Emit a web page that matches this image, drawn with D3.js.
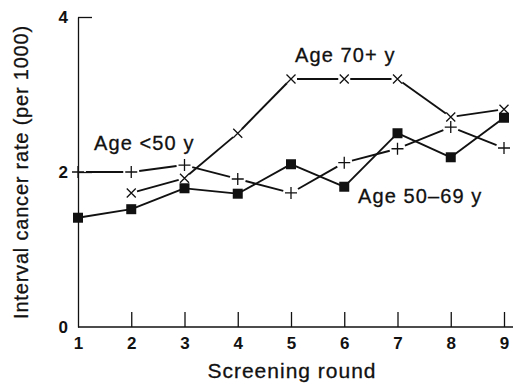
<!DOCTYPE html>
<html>
<head>
<meta charset="utf-8">
<script src="https://cdn.jsdelivr.net/npm/d3@7"></script>
<style>
	body { margin: 0; background: #fff; }
	text { font-family: "Liberation Sans", Arial, sans-serif; fill: #111; }
</style>
</head>
<body>
<svg id="chart" width="513" height="385"></svg>
<script>
const rounds = [1, 2, 3, 4, 5, 6, 7, 8, 9];
const under50 = [2.0, 2.0, 2.09, 1.91, 1.73, 2.12, 2.3, 2.58, 2.31];
const age50to69 = [1.41, 1.52, 1.79, 1.72, 2.1, 1.81, 2.5, 2.19, 2.7];
const age70plus = [null, 1.73, 1.92, 2.5, 3.2, 3.2, 3.2, 2.71, 2.81];
const yTicks = [0, 2, 4];

const svg = d3.select('#chart');
const x = d3.scaleLinear().domain([1, 9]).range([78, 504]);
const y = d3.scaleLinear().domain([0, 4]).range([327, 17]);

// axes, ticks pointing inward
svg.append('g')
	.attr('transform', 'translate(0,327)')
	.call(d3.axisBottom(x).tickValues(rounds).tickFormat(d3.format('d'))
		.tickSizeInner(-15).tickSizeOuter(0).tickPadding(10))
	.call(g => g.select('.domain').attr('d', 'M78,0H513'));
svg.append('g')
	.attr('transform', 'translate(78,0)')
	.call(d3.axisLeft(y).tickValues(yTicks).tickFormat(d3.format('d'))
		.tickSizeInner(-14).tickSizeOuter(0).tickPadding(10));

svg.selectAll('.tick text')
	.style('font-size', '17px')
	.style('font-weight', 'bold')
	.attr('fill', '#111');
svg.selectAll('.domain, .tick line').attr('stroke', '#111').attr('stroke-width', 1.3);
// ticks at the origin sit on the axes
svg.selectAll('.tick').filter(d => d === 1 || d === 0).select('line').remove();

// lines broken at the markers
function series(vals, gap) {
	const pts = rounds.map((r, i) => [r, vals[i]]).filter(p => p[1] != null)
		.map(p => [x(p[0]), y(p[1])]);
	const segs = [];
	for (let i = 0; i < pts.length - 1; i++) {
		const [x0, y0] = pts[i], [x1, y1] = pts[i + 1];
		const len = Math.hypot(x1 - x0, y1 - y0);
		const ux = (x1 - x0) / len, uy = (y1 - y0) / len;
		segs.push([[x0 + ux * gap, y0 + uy * gap], [x1 - ux * gap, y1 - uy * gap]]);
	}
	svg.append('g').selectAll('line').data(segs).enter().append('line')
		.attr('x1', d => d[0][0]).attr('y1', d => d[0][1])
		.attr('x2', d => d[1][0]).attr('y2', d => d[1][1])
		.attr('stroke', '#111').attr('stroke-width', 1.9);
	return pts;
}

const plusPts = series(under50, 8);
const sqPts = series(age50to69, 3);
const crossPts = series(age70plus, 6);

svg.append('g').selectAll('path').data(plusPts).enter().append('path')
	.attr('d', d => `M${d[0] - 6},${d[1]}h12M${d[0]},${d[1] - 6}v12`)
	.attr('stroke', '#111').attr('stroke-width', 1.3);
svg.append('g').selectAll('path').data(crossPts).enter().append('path')
	.attr('d', d => `M${d[0] - 4.5},${d[1] - 4.5}l9,9M${d[0] - 4.5},${d[1] + 4.5}l9,-9`)
	.attr('stroke', '#111').attr('stroke-width', 1.3);
svg.append('g').selectAll('rect').data(sqPts).enter().append('rect')
	.attr('x', d => d[0] - 5).attr('y', d => d[1] - 5)
	.attr('width', 10).attr('height', 10).attr('fill', '#111');

// series labels
const labels = [
	{ t: 'Age <50 y', x: 94, y: 150 },
	{ t: 'Age 70+ y', x: 295, y: 62 },
	{ t: 'Age 50\u201369 y', x: 358, y: 203 }
];
svg.append('g').selectAll('text').data(labels).enter().append('text')
	.attr('x', d => d.x).attr('y', d => d.y)
	.style('font-size', '20px')
	.style('letter-spacing', '1.1px')
	.attr('stroke', '#111').attr('stroke-width', 0.3)
	.text(d => d.t);

svg.append('text')
	.attr('x', 292).attr('y', 378)
	.attr('text-anchor', 'middle')
	.style('font-size', '21px')
	.style('letter-spacing', '1px')
	.attr('stroke', '#111').attr('stroke-width', 0.3)
	.text('Screening round');
svg.append('text')
	.attr('transform', 'translate(28,172) rotate(-90)')
	.attr('text-anchor', 'middle')
	.style('font-size', '20px')
	.style('letter-spacing', '0.8px')
	.attr('stroke', '#111').attr('stroke-width', 0.3)
	.text('Interval cancer rate (per 1000)');
</script>
</body>
</html>
